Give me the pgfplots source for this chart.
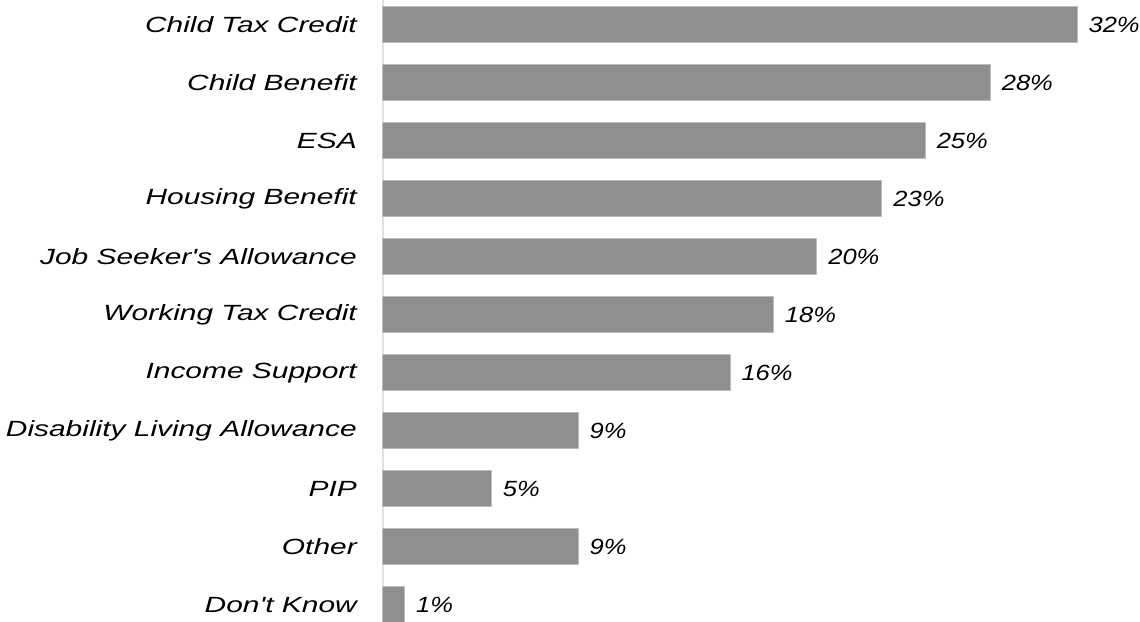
\documentclass[border=0pt]{standalone}
\usepackage{pgfplots}
\pgfplotsset{compat=1.18}
\usepackage{fontspec}
\setmainfont{Liberation Sans}
\newfontfamily\lab[FakeStretch=1.36]{Liberation Sans}
\newfontfamily\val[FakeStretch=1.16]{Liberation Sans}
\definecolor{barfill}{HTML}{8F8F8F}
\definecolor{barline}{HTML}{BDBDBD}
\definecolor{axline}{HTML}{E2E2E2}
\begin{document}
\begin{tikzpicture}
\begin{axis}[
  name=ax,
  scale only axis,
  width=757pt, height=621pt,
  xbar, bar width=36pt, bar shift=0pt,
  xmin=0, xmax=34.9,
  ymin=-0.414, ymax=10.293,
  y dir=reverse,
  axis x line=none,
  axis y line=left,
  axis line style={-},
  y axis line style={draw=axline, line width=2pt},
  major tick length=0pt,
  /pgf/number format/assume math mode=true,
  ytick={0,1,2,3,4,5,6,7,8,9,10},
  yticklabels={Child Tax Credit, Child Benefit, ESA, Housing Benefit, Job Seeker's Allowance, Working Tax Credit, Income Support, Disability Living Allowance, PIP, Other, Don't Know},
  yticklabel style={font=\lab\itshape\fontsize{22}{24}\selectfont, inner sep=0pt, xshift=-26pt, yshift=-1pt},
  point meta=x,
  nodes near coords={\pgfmathprintnumber{\pgfplotspointmeta}\%},
  nodes near coords style={font=\val\itshape\fontsize{22}{24}\selectfont, anchor=west, inner sep=0pt, xshift=11pt, yshift=-1pt},
  clip=false,
]
\addplot[fill=barfill, draw=barline, line width=1pt] coordinates {
  (32,0) (28,1) (25,2) (23,3) (20,4) (18,5) (16,6) (9,7) (5,8) (9,9) (1,10)
};
\end{axis}
\pgfresetboundingbox
\path ([xshift=-383pt]ax.south west) rectangle (ax.north east);
\end{tikzpicture}
\end{document}
